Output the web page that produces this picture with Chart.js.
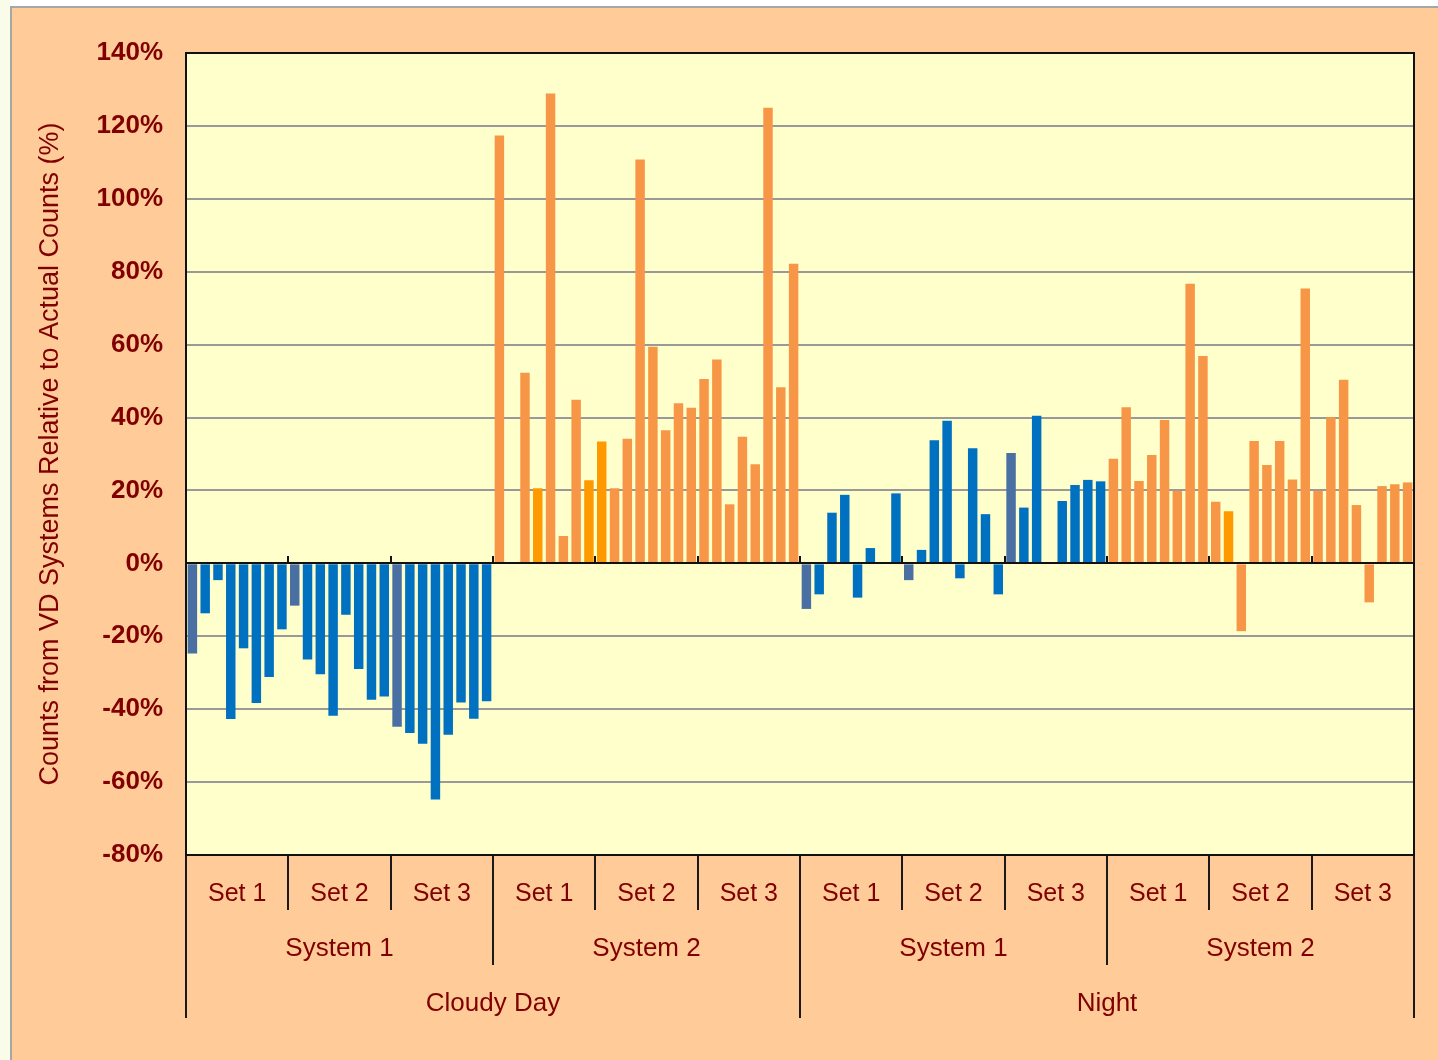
<!DOCTYPE html>
<html>
<head>
<meta charset="utf-8">
<script src="https://cdn.jsdelivr.net/npm/chart.js@4.4.1/dist/chart.umd.min.js"></script>
<style>
  html, body { margin: 0; padding: 0; background: #ffffff; width: 1438px; height: 1060px; overflow: hidden; }
  #strip { position: absolute; left: 0; top: 0; width: 10px; height: 1060px; background: #f9fce8; }
  #panel { position: absolute; left: 10px; top: 6px; width: 1426px; height: 1052px;
           border-left: 2px solid #a6a6a6; border-top: 2px solid #a6a6a6; background: #ffcc99; }
  #chart { display: block; }
</style>
</head>
<body>
<div id="strip"></div>
<div id="panel"><canvas id="chart" width="1426" height="1052"></canvas></div>
<script>
// category levels
const conditions = ['Cloudy Day', 'Night'];
const systems = ['System 1', 'System 2'];
const sets = ['Set 1', 'Set 2', 'Set 3'];
const runsPerSet = 8;

// counts relative to actual (%), 8 runs per set, Set 1..3 in order (null = no bar)
const cloudySystem1 = [
    -24.7, -13.7, -4.6, -42.7, -23.3, -38.3, -31.2, -18.1,
    -11.6, -26.4, -30.4, -41.8, -14.1, -29.0, -37.4, -36.5,
    -44.8, -46.5, -49.5, -64.8, -47.0, -38.2, -42.6, -37.8
];
const cloudySystem2 = [
    117.4, null, 52.3, 20.6, 128.9, 7.5, 44.9, 22.8,
    33.4, 20.6, 34.2, 110.8, 59.4, 36.5, 43.9, 42.7,
    50.6, 55.9, 16.2, 34.7, 27.2, 125.0, 48.3, 82.2
];
const nightSystem1 = [
    -12.5, -8.5, 13.9, 18.8, -9.4, 4.2, null, 19.2,
    -4.6, 3.7, 33.8, 39.1, -4.1, 31.6, 13.5, -8.5,
    30.3, 15.3, 40.5, null, 17.1, 21.5, 22.9, 22.5
];
const nightSystem2 = [
    28.7, 42.8, 22.6, 29.7, 39.3, 19.9, 76.7, 56.9,
    16.9, 14.3, -18.6, 33.6, 27.0, 33.6, 23.0, 75.4,
    19.9, 40.1, 50.4, 16.0, -10.7, 21.2, 21.7, 22.2
];

const yTicks = [-80, -60, -40, -20, 0, 20, 40, 60, 80, 100, 120, 140];

// bars shown in a different shade in the original
const greyBlueBars = [0, 8, 16, 48, 56, 64];
const brightOrangeBars = [27, 31, 32, 81];

const values = [...cloudySystem1, ...cloudySystem2, ...nightSystem1, ...nightSystem2];
const runLabels = [];
conditions.forEach(c => systems.forEach(s => sets.forEach(t => {
    for (let r = 1; r <= runsPerSet; r++) runLabels.push(`${c} ${s} ${t} #${r}`);
})));
const setLabels = conditions.flatMap(() => systems.flatMap(() => sets));
const systemLabels = conditions.flatMap(() => systems);

const FONT = 'Arial, "Liberation Sans", sans-serif';
const DARK_RED = '#800000';
Chart.defaults.font.family = FONT;
Chart.defaults.color = DARK_RED;

const barColor = ctx => {
    const i = ctx.dataIndex;
    if (greyBlueBars.includes(i)) return '#4a6fa3';
    if (brightOrangeBars.includes(i)) return '#ff9900';
    return Math.floor(i / (runsPerSet * sets.length)) % 2 === 0 ? '#0070c0' : '#f79646';
};

const plotFrame = {
    id: 'plotFrame',
    beforeDraw(chart) {
        const {ctx, chartArea: a} = chart;
        ctx.save();
        ctx.fillStyle = '#ffffcc';
        ctx.fillRect(a.left, a.top, a.right - a.left, a.bottom - a.top);
        ctx.restore();
    },
    afterDatasetsDraw(chart) {
        const {ctx, chartArea: a, scales: {x, y}} = chart;
        const y0 = Math.round(y.getPixelForValue(0));
        ctx.save();
        ctx.strokeStyle = '#111';
        ctx.lineWidth = 2;
        ctx.beginPath();
        ctx.moveTo(a.left, y0);
        ctx.lineTo(a.right, y0);
        for (let i = runsPerSet; i < values.length; i += runsPerSet) {
            const bx = Math.round((x.getPixelForValue(i - 1) + x.getPixelForValue(i)) / 2);
            ctx.moveTo(bx, y0);
            ctx.lineTo(bx, y0 - 7);
        }
        ctx.stroke();
        ctx.restore();
    },
    afterDraw(chart) {
        const {ctx, chartArea: a} = chart;
        ctx.save();
        ctx.strokeStyle = '#111';
        ctx.lineWidth = 2;
        ctx.strokeRect(a.left, a.top, a.right - a.left, a.bottom - a.top);
        ctx.restore();
    }
};

const labelAxis = (labels, weight, tickLength, padding, size) => ({
    type: 'category',
    position: 'bottom',
    labels: labels,
    offset: true,
    weight: weight,
    afterFit: scale => { scale.height = tickLength; },
    border: {display: false},
    grid: {offset: true, drawOnChartArea: false, drawTicks: true, tickLength: tickLength,
           color: '#1a1a1a', lineWidth: 2},
    ticks: {autoSkip: false, maxRotation: 0, padding: padding,
            font: {size: size}, color: DARK_RED}
});

new Chart(document.getElementById('chart'), {
    type: 'bar',
    data: {
        labels: runLabels,
        datasets: [{
            data: values,
            backgroundColor: barColor,
            borderWidth: 0,
            barPercentage: 0.74,
            categoryPercentage: 1
        }]
    },
    options: {
        responsive: false,
        animation: false,
        layout: {padding: {left: 0, top: 45, right: 24, bottom: 42}},
        plugins: {legend: {display: false}, tooltip: {enabled: false}},
        scales: {
            x: {display: false, offset: true, weight: 0},
            sets: labelAxis(setLabels, 1, 55, -31, 25),
            systems: labelAxis(systemLabels, 2, 55, -32, 26),
            conditions: labelAxis(conditions, 3, 53, -30, 26),
            y: {
                min: yTicks[0],
                max: yTicks[yTicks.length - 1],
                afterFit: scale => { scale.width = 174; },
                afterBuildTicks: scale => { scale.ticks = yTicks.map(v => ({value: v})); },
                border: {display: false},
                grid: {color: '#999999', lineWidth: 2, drawTicks: false},
                ticks: {
                    padding: 23,
                    font: {size: 26, weight: 'bold'},
                    color: DARK_RED,
                    callback: v => v + '%'
                },
                title: {
                    display: true,
                    text: 'Counts from VD Systems Relative to Actual Counts (%)',
                    font: {size: 27},
                    color: DARK_RED,
                    padding: {top: 22, bottom: 0}
                }
            }
        }
    },
    plugins: [plotFrame]
});
</script>
</body>
</html>
